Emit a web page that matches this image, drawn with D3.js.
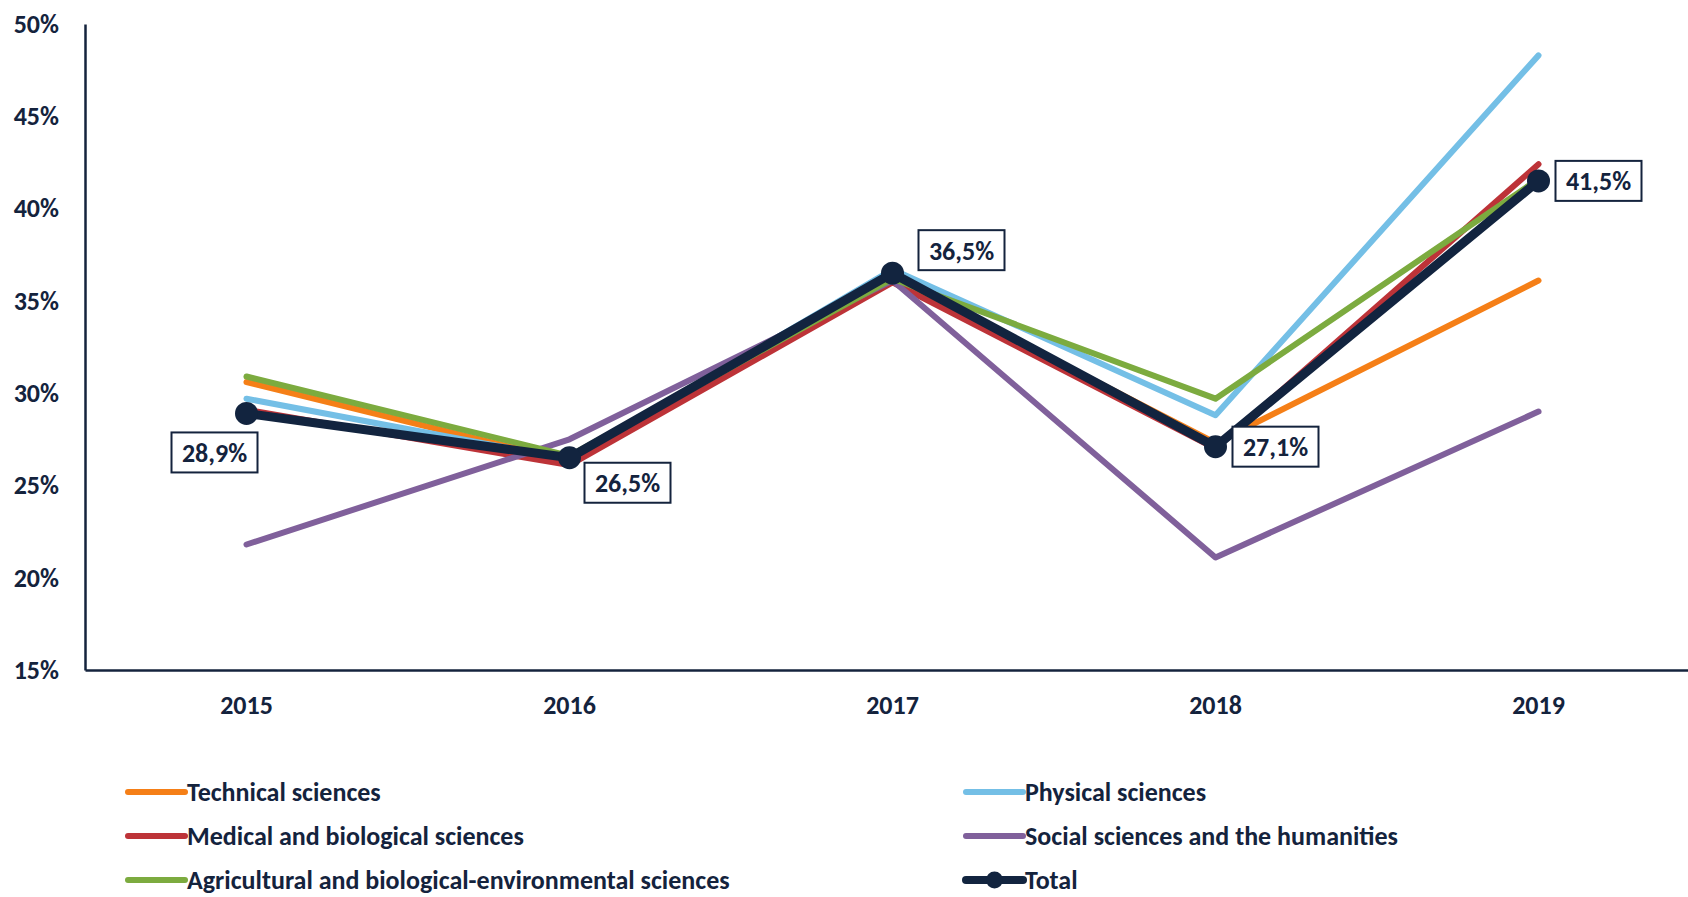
<!DOCTYPE html>
<html lang="en">
<head>
    <meta charset="UTF-8">
    <title>Share by field of science</title>
    <script src="https://d3js.org/d3.v7.min.js"></script>
    <style>
        body { margin: 0; background: #fff; }
        svg text { font-family: Carlito, Calibri, Lato, sans-serif; font-weight: bold; fill: #14233d; }
    </style>
</head>
<body>
    <svg></svg>

    <script>
        const w = 1688;
        const h = 897;

        const years = ["2015", "2016", "2017", "2018", "2019"];
        const seriesNames = [
            "Technical sciences",
            "Physical sciences",
            "Medical and biological sciences",
            "Social sciences and the humanities",
            "Agricultural and biological-environmental sciences",
            "Total"
        ];
        const technical = [30.6, 26.3, 36.3, 27.3, 36.1];
        const physical = [29.7, 26.4, 36.7, 28.8, 48.3];
        const medical = [29.1, 26.1, 36.0, 27.0, 42.4];
        const social = [21.8, 27.5, 36.1, 21.1, 29.0];
        const agricultural = [30.9, 26.6, 36.2, 29.7, 41.6];
        const total = [28.9, 26.5, 36.5, 27.1, 41.5];
        const yTicks = [15, 20, 25, 30, 35, 40, 45, 50];

        const colors = ["#f57f17", "#74bfe6", "#bd3338", "#80609b", "#7cab3f", "#12243f"];
        // where each Total label box sits relative to its point
        const labelOffsets = [[-32, 39], [58, 25], [69, -23], [60, 0], [60, 0]];
        const fontSize = "26px";

        const series = [technical, physical, medical, social, agricultural, total]
            .map((values, i) => ({ name: seriesNames[i], values: values, color: colors[i] }));

        const svg = d3.select("svg")
            .attr("width", w)
            .attr("height", h);

        const x = d3.scaleBand()
            .domain(years)
            .range([85, 1700]);

        const y = d3.scaleLinear()
            .domain([15, 50])
            .range([670, 24]);

        const px = d => x(d) + x.bandwidth() / 2;

        // axes
        svg.append("g")
            .attr("transform", "translate(85,0)")
            .call(d3.axisLeft(y).tickValues(yTicks).tickSize(0).tickPadding(26).tickFormat(d => d + "%"));

        svg.append("g")
            .attr("transform", "translate(0,670)")
            .call(d3.axisBottom(x).tickSize(0).tickSizeOuter(0).tickPadding(26));

        svg.selectAll(".domain")
            .attr("stroke", "#14233d")
            .attr("stroke-width", 2.5);
        svg.selectAll(".tick text")
            .style("font-size", fontSize);

        const line = d3.line()
            .x((d, i) => px(years[i]))
            .y(d => y(d));

        svg.append("g")
            .selectAll("path")
            .data(series)
            .enter()
            .append("path")
                .attr("d", d => line(d.values))
                .attr("fill", "none")
                .attr("stroke", d => d.color)
                .attr("stroke-width", d => d.name === "Total" ? 9 : 6)
                .attr("stroke-linejoin", "round")
                .attr("stroke-linecap", "round");

        // total markers
        svg.append("g")
            .selectAll("circle")
            .data(total)
            .enter()
            .append("circle")
                .attr("cx", (d, i) => px(years[i]))
                .attr("cy", d => y(d))
                .attr("r", 11.5)
                .attr("fill", colors[5]);

        // total labels
        const labels = svg.append("g")
            .selectAll("g")
            .data(total)
            .enter()
            .append("g")
                .attr("transform", (d, i) => `translate(${px(years[i]) + labelOffsets[i][0]}, ${y(d) + labelOffsets[i][1]})`);

        labels.append("rect")
            .attr("x", -43)
            .attr("y", -20)
            .attr("width", 86)
            .attr("height", 40)
            .attr("fill", "#fff")
            .attr("stroke", "#14233d")
            .attr("stroke-width", 2);

        labels.append("text")
            .attr("text-anchor", "middle")
            .attr("dy", "0.36em")
            .style("font-size", fontSize)
            .text(d => d.toFixed(1).replace(".", ",") + "%");

        // legend
        const legendCols = [128, 966];
        const legendRows = [792, 836, 880];

        const legend = svg.append("g")
            .selectAll("g")
            .data(series)
            .enter()
            .append("g")
                .attr("transform", (d, i) => `translate(${legendCols[i % 2]}, ${legendRows[Math.floor(i / 2)]})`);

        legend.append("line")
            .attr("x1", 0)
            .attr("x2", 57)
            .attr("stroke", d => d.color)
            .attr("stroke-width", d => d.name === "Total" ? 8 : 6)
            .attr("stroke-linecap", "round");

        legend.filter(d => d.name === "Total")
            .append("circle")
            .attr("cx", 28.5)
            .attr("r", 8.5)
            .attr("fill", colors[5]);

        legend.append("text")
            .attr("x", 59)
            .attr("dy", "0.36em")
            .style("font-size", fontSize)
            .text(d => d.name);
    </script>
</body>
</html>
